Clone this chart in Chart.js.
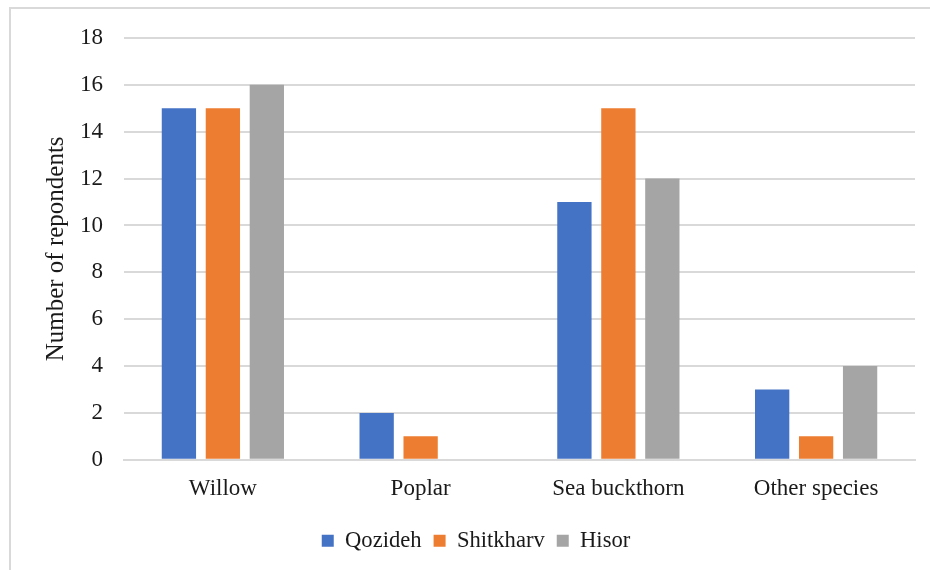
<!DOCTYPE html>
<html>
<head>
<meta charset="utf-8">
<script src="https://cdn.jsdelivr.net/npm/chart.js@4"></script>
<style>
  html, body { margin: 0; padding: 0; background: #ffffff; }
  #wrap { position: relative; width: 930px; height: 570px; }
</style>
</head>
<body>
<div id="wrap"><canvas id="chart" width="930" height="570"></canvas></div>
<script>
// Tree species named by respondents in three villages
const categories = ['Willow', 'Poplar', 'Sea buckthorn', 'Other species'];
const qozideh   = [15, 2, 11, 3];
const shitkharv = [15, 1, 15, 1];
const hisor     = [16, 0, 12, 4];
const yTicks    = [0, 2, 4, 6, 8, 10, 12, 14, 16, 18];

const FONT = '"Liberation Serif", "Times New Roman", serif';
const TEXT = '#1a1a1a';
const GRID = '#d9d9d9';

// thin frame along the top and left edges of the figure
const framePlugin = {
  id: 'frame',
  beforeDraw(chart) {
    const ctx = chart.ctx;
    ctx.save();
    ctx.strokeStyle = GRID;
    ctx.lineWidth = 2;
    ctx.beginPath();
    ctx.moveTo(10, 570);
    ctx.lineTo(10, 8);
    ctx.lineTo(930, 8);
    ctx.stroke();
    ctx.restore();
  }
};

new Chart(document.getElementById('chart'), {
  type: 'bar',
  data: {
    labels: categories,
    datasets: [
      { label: 'Qozideh',   data: qozideh,   backgroundColor: '#4472c4' },
      { label: 'Shitkharv', data: shitkharv, backgroundColor: '#ed7d31' },
      { label: 'Hisor',     data: hisor,     backgroundColor: '#a5a5a5' }
    ]
  },
  options: {
    responsive: false,
    animation: false,
    devicePixelRatio: 1,
    layout: { padding: { left: 37, top: 38, right: 15, bottom: 8 } },
    datasets: { bar: { categoryPercentage: 0.667, barPercentage: 0.78 } },
    scales: {
      x: {
        grid: { display: false, drawTicks: false },
        border: { display: true, color: GRID, width: 2 },
        ticks: { color: TEXT, font: { family: FONT, size: 23 }, padding: 15 }
      },
      y: {
        min: 0,
        max: 18,
        afterBuildTicks(scale) { scale.ticks = yTicks.map(v => ({ value: v })); },
        afterFit(scale) { scale.width = 87; },
        grid: { color: GRID, lineWidth: 2, drawTicks: false },
        border: { display: false },
        ticks: { color: TEXT, font: { family: FONT, size: 23 }, padding: 21 },
        title: {
          display: true,
          text: 'Number of repondents',
          color: TEXT,
          font: { family: FONT, size: 25 },
          padding: { top: 4, bottom: 0 }
        }
      }
    },
    plugins: {
      legend: {
        position: 'bottom',
        labels: {
          color: TEXT,
          font: { family: FONT, size: 22.6 },
          boxWidth: 12,
          boxHeight: 12,
          padding: 12
        }
      },
      tooltip: { enabled: false }
    }
  },
  plugins: [framePlugin]
});
</script>
</body>
</html>
